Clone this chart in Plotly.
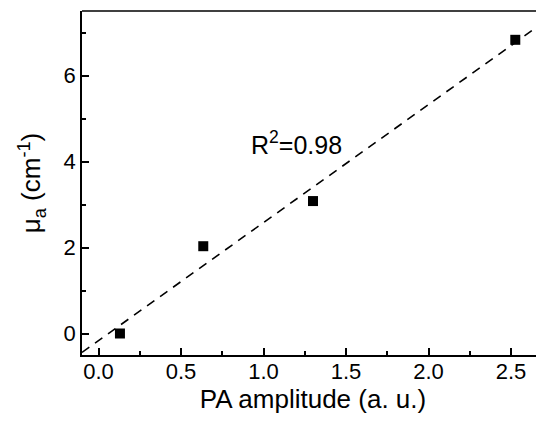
import numpy as np
import plotly.graph_objects as go

pa_amplitude = [0.13, 0.635, 1.30, 2.526]
mu_a = [0.0, 2.03, 3.08, 6.83]
x_ticks = [0.0, 0.5, 1.0, 1.5, 2.0, 2.5]
x_tick_labels = ["0.0", "0.5", "1.0", "1.5", "2.0", "2.5"]
y_ticks = [0, 2, 4, 6]
y_tick_labels = ["0", "2", "4", "6"]
x_range = [-0.1, 2.7]
y_range = [-0.5, 7.5]
r2_label = "R<sup>2</sup>=0.98"

slope, intercept = np.polyfit(pa_amplitude, mu_a, 1)
fit_x = np.array(x_range)
fit_y = slope * fit_x + intercept

FONT = "Liberation Sans, Arial, sans-serif"

fig = go.Figure()
fig.add_trace(go.Scatter(x=fit_x, y=fit_y, mode="lines",
                         line=dict(color="black", width=1.6, dash="9px,7px"),
                         showlegend=False, hoverinfo="skip"))
fig.add_trace(go.Scatter(x=pa_amplitude, y=mu_a, mode="markers",
                         marker=dict(symbol="square", size=10, color="black",
                                     line=dict(width=0)),
                         showlegend=False))

fig.add_annotation(x=1.2, y=4.42, xref="x", yref="y", text=r2_label,
                   showarrow=False, font=dict(family=FONT, size=25, color="black"))

fig.add_shape(type="line", xref="paper", yref="paper", x0=0, x1=1, y0=1, y1=1,
              line=dict(color="black", width=1.5))

axis_common = dict(showgrid=False, zeroline=False, showline=True, linecolor="black",
                   linewidth=1.5, ticks="inside", ticklen=7, tickwidth=1.5,
                   tickcolor="black", tickfont=dict(family=FONT, size=22, color="black"),
                   mirror=False, automargin=False)

fig.update_xaxes(range=x_range, tickvals=x_ticks, ticktext=x_tick_labels,
                 ticklabelstandoff=-4,
                 title=dict(text="PA amplitude (a. u.)", standoff=6,
                            font=dict(family=FONT, size=26, color="black")),
                 minor=dict(ticks="inside", ticklen=4, tickwidth=1.5, tickcolor="black",
                            dtick=0.25, tick0=0),
                 **axis_common)
fig.update_yaxes(range=y_range, tickvals=y_ticks, ticktext=y_tick_labels,
                 title=dict(text="μ<sub>a</sub> (cm<sup>-1</sup>)",
                            font=dict(family=FONT, size=26, color="black")),
                 minor=dict(ticks="inside", ticklen=4, tickwidth=1.5, tickcolor="black",
                            dtick=1, tick0=0),
                 **axis_common)

fig.update_layout(width=536, height=418, margin=dict(l=74, r=0, t=3, b=71),
                  plot_bgcolor="white", paper_bgcolor="white",
                  font=dict(family=FONT, color="black"))

fig.write_html("out.html")
